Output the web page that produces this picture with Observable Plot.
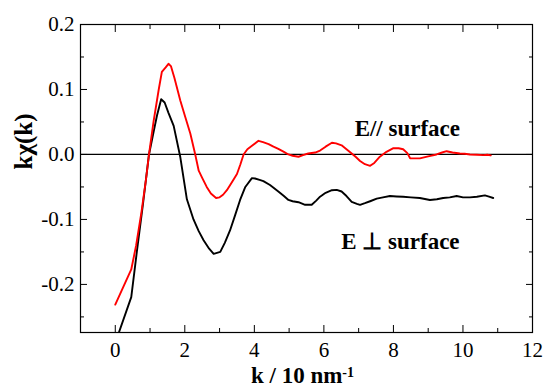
<!DOCTYPE html>
<html>
<head>
<meta charset="utf-8">
<script src="https://cdn.jsdelivr.net/npm/d3@7"></script>
<script src="https://cdn.jsdelivr.net/npm/@observablehq/plot@0.6"></script>
<style>
  html, body { margin: 0; padding: 0; background: #fff; }
  #chart svg { display: block; }
</style>
</head>
<body>
<div id="chart"></div>
<script>
// E // surface (red)
const kPar = [0, 0.46, 0.6, 0.75, 0.88, 0.97, 1.1, 1.25, 1.34, 1.45, 1.53, 1.6, 1.7, 1.87, 2.0, 2.16, 2.3, 2.4, 2.5, 2.63, 2.75, 2.9, 3.0, 3.1, 3.21, 3.35, 3.5, 3.6, 3.69, 3.8, 3.95, 4.12, 4.25, 4.41, 4.55, 4.69, 4.85, 4.98, 5.1, 5.27, 5.4, 5.55, 5.75, 5.89, 6.05, 6.23, 6.35, 6.51, 6.65, 6.8, 6.92, 7.04, 7.18, 7.33, 7.45, 7.61, 7.8, 8.0, 8.15, 8.28, 8.4, 8.48, 8.6, 8.76, 9.0, 9.24, 9.4, 9.53, 9.7, 9.91, 10.05, 10.2, 10.4, 10.58, 10.7, 10.8];
const chiPar = [-0.231, -0.177, -0.14, -0.09, -0.04, 0.0, 0.05, 0.1, 0.127, 0.134, 0.1395, 0.136, 0.118, 0.083, 0.06, 0.032, 0.0, -0.025, -0.036, -0.05, -0.06, -0.067, -0.066, -0.062, -0.055, -0.043, -0.03, -0.015, 0.0, 0.008, 0.014, 0.021, 0.019, 0.016, 0.012, 0.0085, 0.004, 0.0, -0.002, -0.0035, -0.001, 0.0015, 0.003, 0.006, 0.012, 0.018, 0.017, 0.014, 0.008, 0.0015, -0.004, -0.010, -0.015, -0.0175, -0.013, -0.0035, 0.004, 0.0098, 0.0095, 0.008, 0.002, -0.0058, -0.006, -0.006, -0.003, 0.0, 0.003, 0.005, 0.003, 0.0015, 0.001, 0.0, -0.0005, -0.001, -0.0005, -0.0015];

// E perpendicular surface (black)
const kPerp = [0, 0.46, 0.62, 0.8, 0.97, 1.1, 1.2, 1.32, 1.42, 1.53, 1.68, 1.87, 2.06, 2.25, 2.4, 2.54, 2.7, 2.83, 3.02, 3.15, 3.3, 3.45, 3.59, 3.74, 3.93, 4.02, 4.15, 4.26, 4.45, 4.69, 4.85, 4.98, 5.1, 5.27, 5.46, 5.65, 5.78, 5.89, 6.05, 6.23, 6.37, 6.51, 6.65, 6.8, 6.95, 7.04, 7.18, 7.33, 7.52, 7.7, 7.9, 8.09, 8.28, 8.5, 8.76, 9.05, 9.25, 9.43, 9.62, 9.82, 10.0, 10.2, 10.4, 10.63, 10.75, 10.87];
const chiPerp = [-0.29, -0.2195, -0.15, -0.075, 0.0, 0.034, 0.06, 0.085, 0.08, 0.064, 0.044, -0.004, -0.069, -0.1, -0.118, -0.132, -0.145, -0.153, -0.15, -0.136, -0.117, -0.093, -0.07, -0.05, -0.0365, -0.037, -0.039, -0.041, -0.047, -0.057, -0.064, -0.07, -0.072, -0.0735, -0.0775, -0.0775, -0.071, -0.065, -0.059, -0.055, -0.0545, -0.057, -0.064, -0.073, -0.076, -0.0775, -0.075, -0.072, -0.068, -0.066, -0.064, -0.0646, -0.065, -0.066, -0.067, -0.070, -0.069, -0.067, -0.066, -0.064, -0.066, -0.066, -0.065, -0.063, -0.065, -0.067];

const xMajor = [0, 2, 4, 6, 8, 10, 12];
const xMinor = [1, 3, 5, 7, 9, 11];
const yMajor = [-0.2, -0.1, 0.0, 0.1, 0.2];
const yMinor = [-0.25, -0.15, -0.05, 0.05, 0.15];

const seriesLabels = ["E// surface", "E \u22A5 surface"];
const labelK = [8.4, 8.2];
const labelChi = [0.039, -0.134];

const xTitle = "k / 10 nm";
const xTitleSup = "-1";
const yTitle = "k\u03C7(k)";

const parData = kPar.map((k, i) => ({k, v: chiPar[i]}));
const perpData = kPerp.map((k, i) => ({k, v: chiPerp[i]}));
const labelData = seriesLabels.map((t, i) => ({t, k: labelK[i], v: labelChi[i]}));

const fmt = d => d.toFixed(1);
const FONT = "'Liberation Serif', 'Times New Roman', serif";

const chart = Plot.plot({
  width: 544,
  height: 388,
  marginLeft: 80,
  marginRight: 12,
  marginTop: 24,
  marginBottom: 56,
  style: {background: "#fff", color: "#000"},
  x: {domain: [-1, 12]},
  y: {domain: [-0.274, 0.2]},
  marks: [
    Plot.ruleY([0], {stroke: "#000", strokeWidth: 1.2}),
    Plot.line(perpData, {x: "k", y: "v", stroke: "#000", strokeWidth: 1.9, clip: true}),
    Plot.line(parData, {x: "k", y: "v", stroke: "#f00", strokeWidth: 1.9, clip: true}),
    Plot.axisX(xMajor, {anchor: "bottom", tickSize: -7, tickPadding: 17, fontSize: 21, label: null, tickFormat: d => String(d)}),
    Plot.axisX(xMinor, {anchor: "bottom", tickSize: -4, tickFormat: () => "", label: null}),
    Plot.axisX(xMajor, {anchor: "top", tickSize: -7, tickFormat: () => "", label: null}),
    Plot.axisX(xMinor, {anchor: "top", tickSize: -4, tickFormat: () => "", label: null}),
    Plot.axisY(yMajor, {anchor: "left", tickSize: -7, tickPadding: 13, fontSize: 21, label: null, tickFormat: fmt}),
    Plot.axisY(yMinor, {anchor: "left", tickSize: -4, tickFormat: () => "", label: null}),
    Plot.axisY(yMajor, {anchor: "right", tickSize: -7, tickFormat: () => "", label: null}),
    Plot.axisY(yMinor, {anchor: "right", tickSize: -4, tickFormat: () => "", label: null}),
    Plot.frame({stroke: "#000", strokeWidth: 1.2}),
    Plot.text(labelData, {x: "k", y: "v", text: "t", fontSize: 23, fontWeight: "bold", fill: "#000"}),
    Plot.text([xTitle], {frameAnchor: "bottom", textAnchor: "middle", lineAnchor: "middle", dy: 43, dx: -4, fontSize: 23, fontWeight: "bold", fill: "#000"}),
    Plot.text([yTitle], {frameAnchor: "left", textAnchor: "middle", lineAnchor: "middle", dx: -57, dy: -37, rotate: -90, fontSize: 25, fontWeight: "bold", fill: "#000"})
  ]
});

document.getElementById("chart").appendChild(chart);

// serif font on every text, set inline
chart.setAttribute("font-family", FONT);
d3.select(chart).selectAll("text, g").each(function () {
  this.style.setProperty("font-family", FONT, "important");
});

// add superscript to x title
d3.select(chart).selectAll("text")
  .filter(function () { return this.textContent === xTitle; })
  .append("tspan")
  .attr("dy", "-0.45em")
  .attr("font-size", "14")
  .text(xTitleSup);
</script>
</body>
</html>
